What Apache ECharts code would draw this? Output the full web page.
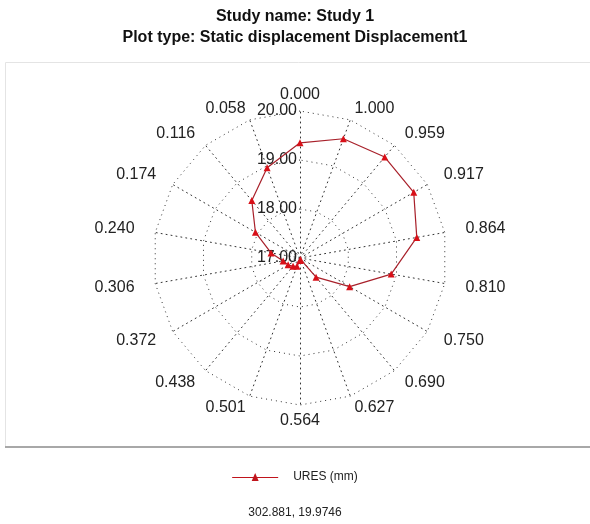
<!DOCTYPE html>
<html>
<head>
<meta charset="utf-8">
<script src="https://cdn.jsdelivr.net/npm/echarts@6/dist/echarts.min.js"></script>
<style>
  html, body { margin: 0; padding: 0; background: #ffffff; }
  #chart { width: 590px; height: 524px; }
</style>
</head>
<body>
<div id="chart"></div>
<script>
// ---- data ----
const angleLabels = ['0.000', '0.058', '0.116', '0.174', '0.240', '0.306', '0.372', '0.438', '0.501',
                     '0.564', '0.627', '0.690', '0.750', '0.810', '0.864', '0.917', '0.959', '1.000'];
const uresValues = [19.35, 18.96, 18.53, 18.05, 17.60, 17.35, 17.28, 17.22, 17.18,
                    17.05, 17.03, 17.51, 18.17, 18.89, 19.42, 19.68, 19.69, 19.59];
const radialTickLabels = ['17.00', '18.00', '19.00', '20.00'];
const radialMin = 17;
const radialMax = 20;
const seriesName = 'URES (mm)';
const titleLines = ['Study name: Study 1', 'Plot type: Static displacement Displacement1'];
const footerText = '302.881, 19.9746';

const FONT = '"Liberation Sans", Arial, sans-serif';
const n = angleLabels.length;

const indicators = angleLabels.map(function (lab, i) {
  const a = i * 2 * Math.PI / n;
  const ind = {
    name: lab,
    min: radialMin,
    max: radialMax,
    nameGap: Math.round(8 + 13 * Math.abs(Math.sin(a)))
  };
  if (i === 0) {
    ind.axisLabel = {
      show: true,
      margin: 3,
      color: '#222',
      fontSize: 16,
      fontFamily: FONT,
      showMinLabel: true,
      showMaxLabel: true,
      formatter: function (v) {
        const k = Math.round(v - radialMin);
        return radialTickLabels[k] != null ? radialTickLabels[k] : v.toFixed(2);
      }
    };
  }
  return ind;
});

// legend icon: thin line with a triangle in the middle
const legendIcon = 'path://M0,4 H21.25 L23,0 L24.75,4 H46 V5 H25.19 L26.5,8 H19.5 L20.81,5 H0 Z';

const chart = echarts.init(document.getElementById('chart'), null, { renderer: 'canvas' });
chart.setOption({
  backgroundColor: '#ffffff',
  animation: false,
  title: [{
    text: titleLines.join('\n'),
    left: 'center',
    top: 1,
    textStyle: { fontFamily: FONT, fontWeight: 'bold', fontSize: 16, color: '#111', lineHeight: 21 }
  }, {
    text: footerText,
    left: 'center',
    top: 502,
    textStyle: { fontFamily: FONT, fontWeight: 'normal', fontSize: 12, color: '#222' }
  }],
  graphic: [{
    type: 'rect',
    shape: { x: 5.5, y: 62.5, width: 600, height: 384 },
    style: { fill: '#ffffff', stroke: '#e4e4e4', lineWidth: 1 },
    z: -10, silent: true
  }, {
    type: 'line',
    shape: { x1: 5, y1: 447, x2: 600, y2: 447 },
    style: { stroke: '#a8a8a8', lineWidth: 2 },
    z: -9, silent: true
  }],
  legend: {
    data: [{ name: seriesName, icon: legendIcon }],
    top: 466,
    left: 'center',
    itemWidth: 46,
    itemHeight: 8,
    itemStyle: { color: '#c0141c' },
    textStyle: { fontFamily: FONT, fontSize: 12, color: '#222', padding: [0, 0, 0, 10] }
  },
  radar: {
    center: [300, 258],
    radius: 147,
    startAngle: 90,
    splitNumber: 3,
    shape: 'polygon',
    indicator: indicators,
    axisName: { color: '#222', fontSize: 16, fontFamily: FONT },
    axisLine: { show: true, lineStyle: { color: '#333', width: 1, type: [1, 4] } },
    splitLine: { show: true, lineStyle: { color: '#333', width: 1, type: [1, 4] } },
    splitArea: { show: false },
    axisTick: { show: false },
    axisLabel: { show: false }
  },
  series: [{
    name: seriesName,
    type: 'radar',
    symbol: 'triangle',
    symbolSize: 7,
    lineStyle: { color: '#a8202a', width: 1.2 },
    itemStyle: { color: '#d81018' },
    data: [{ value: uresValues, name: seriesName }]
  }]
});
</script>
</body>
</html>
